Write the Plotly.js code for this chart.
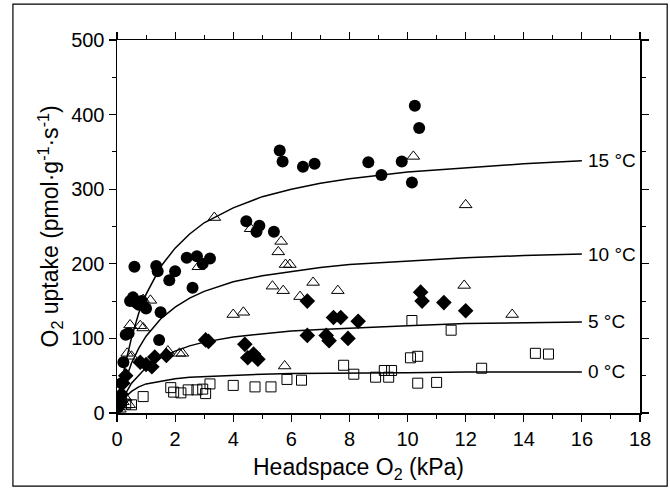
<!DOCTYPE html>
<html>
<head>
<meta charset="utf-8">
<script src="https://cdn.plot.ly/plotly-3.0.1.min.js"></script>
<style>html,body{margin:0;padding:0;background:#fff;}#chart{width:670px;height:491px;}</style>
</head>
<body>
<div id="chart"></div>
<script>
// Measured points (Headspace O2 kPa, O2 uptake pmol g-1 s-1)
const c15x = [0.05,0.1,0.15,0.22,0.3,0.4,0.45,0.55,0.6,0.65,0.75,0.85,1.0,1.35,1.4,1.45,1.5,1.8,2.0,2.4,2.6,2.75,2.95,3.2,4.45,4.8,4.9,5.4,5.6,5.7,6.4,6.8,8.65,9.1,9.8,10.15,10.25,10.4];
const c15y = [8,18,40,68,105,107,150,155,196,148,145,150,140,197,190,98,135,178,190,208,168,210,200,207,257,243,251,243,352,337,330,334,336,319,337,309,412,382];

const c10x = [0.1,0.2,0.3,0.42,0.35,0.5,0.45,0.8,0.9,0.9,1.15,1.75,2.15,2.25,2.8,3.35,4.0,4.35,4.6,5.35,5.55,5.65,5.72,5.8,5.95,5.77,6.3,6.75,7.6,10.2,11.95,12.0,13.6];
const c10y = [5,15,20,11,80,76,118,117,114,152,151,83,80,80,196,262,132,135,247,170,216,230,164,199,199,63,156,175,164,344,171,279,132];

const c5x = [0.05,0.1,0.15,0.2,0.3,0.8,1.0,1.2,1.3,1.7,3.05,3.15,4.4,4.5,4.7,4.85,6.55,6.55,7.2,7.3,7.45,7.7,7.95,8.3,10.45,10.5,11.25,12.0];
const c5y = [10,15,25,40,50,68,65,62,75,77,98,96,92,74,79,72,150,104,104,97,128,128,100,123,162,150,148,137];

const c0x = [0.15,0.3,0.5,0.9,1.85,1.95,2.2,2.45,2.75,2.95,3.05,3.2,4.0,4.75,5.3,5.85,6.35,7.8,8.15,8.9,9.2,9.35,9.45,10.1,10.15,10.35,10.35,11.0,11.5,12.55,14.4,14.85];
const c0y = [15,12,11,22,34,28,27,31,31,32,26,39,37,35,35,45,44,64,52,48,57,48,57,74,124,76,40,41,111,60,80,79];

// Fitted curves
const fitX  = [0.1,0.25,0.5,0.75,1,1.5,2,2.5,3,4,5,6,7,8,10,12,14,16];
const fit15 = [26,59,101,134,159,196,221,240,255,275,290,300,308,314,323,329,334,338];
const fit10 = [17,39,67,87,103,126,142,154,163,176,184,190,195,199,204,208,211,213];
const fit5  = [10,23,40,51,61,74,83,90,95,102,106,110,112,114,117,120,121,122];
const fit0  = [10,20,29,35,39,43,46,48,49,51,52,53,53,54,54,55,55,55];

const curveLabels = ['15 °C','10 °C','5 °C','0 °C'];
const xTitle = 'Headspace O<sub>2</sub> (kPa)';
const yTitle = 'O<sub>2</sub> uptake (pmol·g<sup>-1</sup>·s<sup>-1</sup>)';

const font = 'Liberation Sans, Arial, Helvetica, sans-serif';
const mk = (sym, size, lw) => ({symbol: sym, size: size, color: '#000', line: {color: '#000', width: lw}});

const traces = [
  {x: fitX, y: fit15, mode: 'lines', line: {color: '#000', width: 1.5}},
  {x: fitX, y: fit10, mode: 'lines', line: {color: '#000', width: 1.5}},
  {x: fitX, y: fit5, mode: 'lines', line: {color: '#000', width: 1.5}},
  {x: fitX, y: fit0, mode: 'lines', line: {color: '#000', width: 1.5}},
  {x: c0x, y: c0y, mode: 'markers', marker: mk('square-open', 10, 1)},
  {x: c10x, y: c10y, mode: 'markers', marker: mk('triangle-up-open', 11, 1)},
  {x: c5x, y: c5y, mode: 'markers', marker: mk('diamond', 12, 0)},
  {x: c15x, y: c15y, mode: 'markers', marker: mk('circle', 12, 0)}
];

const ends = [fit15, fit10, fit5, fit0].map(a => a[a.length - 1]);
const annotations = curveLabels.map((t, i) => ({
  x: fitX[fitX.length - 1], y: ends[i], xref: 'x', yref: 'y', text: t, showarrow: false,
  xanchor: 'left', xshift: 4, yanchor: 'middle', font: {family: font, size: 19, color: '#000'}
}));
annotations.push({x: 0.461, y: -0.148, xref: 'paper', yref: 'paper', text: xTitle, showarrow: false,
  xanchor: 'center', yanchor: 'middle', font: {family: font, size: 23, color: '#000'}});
annotations.push({x: -0.13, y: 0.5, xref: 'paper', yref: 'paper', text: yTitle, showarrow: false, textangle: -90,
  xanchor: 'center', yanchor: 'middle', font: {family: font, size: 23, color: '#000'}});

const axisBase = {
  showgrid: false, zeroline: false, showline: true, linecolor: '#000', linewidth: 1.5,
  mirror: 'allticks', ticks: 'outside', ticklen: 7, tickwidth: 1.2, tickcolor: '#000',
  tickfont: {family: font, size: 20, color: '#000'}
};

const layout = {
  width: 670, height: 491,
  margin: {l: 117, r: 30, t: 40, b: 78},
  paper_bgcolor: '#fff', plot_bgcolor: '#fff',
  showlegend: false,
  xaxis: Object.assign({}, axisBase, {
    range: [0, 18], dtick: 2, tick0: 0,
    minor: {ticks: 'outside', ticklen: 4, dtick: 1, tickcolor: '#000', tickwidth: 1}
  }),
  yaxis: Object.assign({}, axisBase, {
    range: [0, 500], dtick: 100, tick0: 0,
    minor: {ticks: 'outside', ticklen: 4, dtick: 50, tickcolor: '#000', tickwidth: 1}
  }),
  annotations: annotations,
  shapes: [{type: 'rect', xref: 'paper', yref: 'paper', x0: -0.199, x1: 1.052, y0: -0.196, y1: 1.096,
    line: {color: '#000', width: 1.2}, fillcolor: 'rgba(0,0,0,0)', layer: 'above'}]
};

Plotly.newPlot('chart', traces, layout, {displayModeBar: false, staticPlot: true});
</script>
</body>
</html>
